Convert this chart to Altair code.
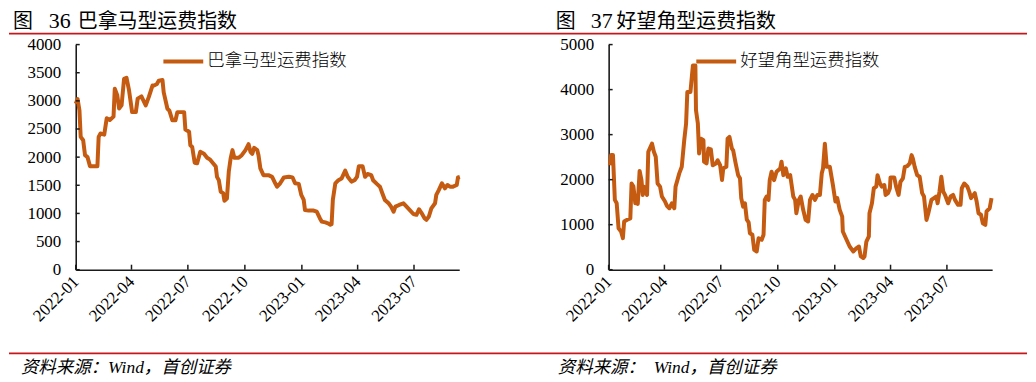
import altair as alt
import pandas as pd

# ---- data (days since 2022-01-01, index value) ----
pan_days = [0, 3, 6, 8, 12, 15, 19, 23, 35, 37, 40, 46, 50, 55, 61, 63, 67, 70, 74, 78,
            82, 86, 91, 97, 100, 106, 113, 118, 124, 127, 131, 134, 140, 142, 148, 151, 156, 161, 164, 175,
            177, 183, 185, 188, 192, 196, 201, 207, 212, 217, 223, 226, 228, 231, 234, 238, 240, 244, 247, 250,
            253, 256, 263, 268, 274, 279, 282, 285, 288, 293, 295, 298, 303,
            306, 311, 317, 322, 325, 330, 336, 344, 350, 354, 360, 364, 368, 370, 376, 384, 389, 394, 397, 403,
            407, 411, 413, 415, 419, 424, 429, 435, 439, 445, 450, 454, 457, 463, 467, 471, 477, 480, 486, 491,
            495, 499, 505, 509, 513, 516, 522, 529, 534, 540, 545, 550, 554, 558, 563, 566, 570, 574, 580, 582,
            586, 591, 596, 600, 604, 609, 615, 617, 620]
pan_vals = [2950, 3030, 2830, 2360, 2300, 2035, 2000, 1840, 1840, 2360, 2420, 2400, 2690, 2660, 2720, 3215, 3100, 2865, 2920, 3390,
            3410, 3190, 2800, 2800, 3040, 3080, 2920, 3070, 3275, 3275, 3300, 3360, 3370, 3150, 2860, 2830, 2655, 2655, 2800, 2800,
            2490, 2450, 2210, 2180, 1900, 1890, 2095, 2060, 1990, 1955, 1875, 1835, 1650, 1590, 1385, 1360, 1226, 1265, 1740, 1975,
            2125, 1990, 1990, 2035, 2125, 2230, 2095, 2060, 2165, 2125, 2035, 1800, 1680,
            1680, 1680, 1650, 1535, 1475, 1535, 1640, 1650, 1640, 1535, 1525, 1330, 1240, 1060, 1050, 1050, 1030, 915, 855, 840,
            825, 800, 810, 1240, 1535, 1590, 1620, 1760, 1650, 1565, 1590, 1650, 1840, 1840, 1650, 1700, 1680, 1590, 1525, 1475,
            1355, 1240, 1180, 1120, 1030, 1120, 1150, 1180, 1120, 1050, 990, 975, 1075, 1010, 915, 885, 945, 1090, 1180, 1330,
            1415, 1535, 1445, 1505, 1475, 1475, 1505, 1640, 1650]

cape_days = [2, 4, 7, 10, 13, 16, 20, 23, 25, 30, 35, 37, 40, 43, 46, 47, 50, 53, 55, 57,
             62, 64, 70, 73, 76, 79, 83, 86, 91, 94, 98, 102, 106, 108, 111, 114, 118, 122, 125, 127,
             132, 134, 136, 140, 141, 144, 146, 149, 153, 154, 158, 161, 165, 168, 173, 176, 180, 183, 185, 190,
             192, 195, 199, 201, 205, 209, 212, 214, 217, 220, 223, 226, 228, 232, 235, 239, 242, 247, 250, 252,
             255, 258, 260, 263, 267, 271, 277, 279, 282, 286, 289, 293, 295, 298, 301, 303, 307, 310, 314, 318,
             322, 325, 329, 333, 337, 341, 344, 346, 349, 352, 357, 362, 366, 369, 373, 377, 378, 384, 389, 395,
             400, 404, 407, 411, 413, 416, 420, 421, 425, 428, 432, 434, 438, 441, 445, 447, 451, 454, 455, 461,
             464, 468, 471, 475, 478, 482, 486, 489, 491, 494, 498, 502, 506, 509, 513, 516, 521, 525, 529, 531,
             534, 537, 540, 543, 548, 552, 556, 559, 564, 568, 570, 574, 579, 582, 585, 591, 594, 597, 601, 604,
             608, 610, 615, 618]
cape_vals = [2320, 2545, 2545, 1550, 1475, 920, 850, 700, 1070, 1110, 1140, 1915, 1845, 1475, 1625, 1460, 2195, 1990, 1660, 1845,
             1660, 2620, 2800, 2620, 2510, 1915, 1845, 1625, 1515, 1420, 1365, 1475, 1365, 1845, 1990, 2140, 2285, 2875, 3245, 3945,
             3945, 4240, 4535, 4535, 3540, 3245, 2580, 2910, 2875, 2400, 2360, 2690, 2670, 2320, 2360, 2430, 2320, 1990, 2250, 2285,
             2910, 2950, 2690, 2650, 2360, 2100, 2030, 1590, 1400, 1475, 1110, 1050, 810, 775, 440, 405, 700, 665, 775, 1550,
             1625, 1550, 1990, 2175, 1990, 2175, 2250, 2400, 2100, 2250, 2065, 2100, 1915, 1625, 1550, 1255, 1550, 1625, 1330, 1106,
             1070, 1550, 1660, 1550, 1660, 1660, 2140, 2250, 2800, 2285, 2285, 1880, 1515, 1590, 1330, 1180, 848, 665, 515, 405,
             480, 515, 295, 260, 295, 625, 740, 1255, 1475, 1810, 1845, 2100, 1915, 1845, 1880, 1660, 1700, 1810, 2050, 2050,
             1845, 1660, 1950, 2030, 2285, 2300, 2360, 2545, 2470, 2285, 2100, 2065, 1700, 1625, 1106, 1255, 1550, 1590, 1625, 1475,
             1735, 2065, 1735, 1660, 1475, 1625, 1660, 1550, 1440, 1440, 1810, 1915, 1845, 1735, 1590, 1700, 1515, 1255, 1220, 1030,
             995, 1295, 1365, 1590]

tick_dates = ["2022-01-01", "2022-04-01", "2022-07-01", "2022-10-01",
              "2023-01-01", "2023-04-01", "2023-07-01"]
pan_yticks = [0, 500, 1000, 1500, 2000, 2500, 3000, 3500, 4000]
cape_yticks = [0, 1000, 2000, 3000, 4000, 5000]

start = pd.Timestamp("2022-01-01")


def to_df(days, vals):
    return pd.DataFrame({"date": start + pd.to_timedelta(days, unit="D"), "value": vals})


LINE = "#C55A11"
RED = "#C8161D"
AX = "#1a1a1a"
SERIF = "Liberation Serif"
CJK = "Noto Sans CJK SC"
W, H = 385, 226

x_scale = alt.Scale(domain=[alt.DateTime(year=2022, month=1, date=1),
                            alt.DateTime(year=2023, month=9, date=12)])
x_axis = alt.Axis(title=None, grid=False, ticks=False, domainColor=AX, domainWidth=1.6,
                  values=[alt.DateTime(year=int(d[:4]), month=int(d[5:7]), date=1) for d in tick_dates],
                  format="%Y-%m", labelAngle=-45, labelAlign="right", labelBaseline="middle",
                  labelPadding=9, labelFont=SERIF, labelFontSize=17, labelColor="#000",
                  labelOverlap=False, labelFlush=False, labelBound=False)


def panel(df, ymax, yticks, fig_no, name, src, title_x, num_x, name_x, red_l, red_r, src_x):
    y_scale = alt.Scale(domain=[0, ymax])
    y_axis = alt.Axis(title=None, grid=False, ticks=False, domainColor=AX, domainWidth=1.6,
                      values=yticks, format="d", labelPadding=15, labelFont=SERIF,
                      labelFontSize=17, labelColor="#000", labelFlush=False)
    X = alt.X("date:T", scale=x_scale, axis=x_axis)
    Y = alt.Y("value:Q", scale=y_scale, axis=y_axis)

    line = alt.Chart(df).mark_line(color=LINE, strokeWidth=4, strokeJoin="round").encode(x=X, y=Y)

    xt = alt.Chart(pd.DataFrame({"date": pd.to_datetime(tick_dates)})).mark_rule(
        color=AX, strokeWidth=1.5).encode(x=X, y=alt.value(H - 5), y2=alt.value(H))
    yt = alt.Chart(pd.DataFrame({"value": yticks})).mark_rule(
        color=AX, strokeWidth=1.5).encode(y=Y, x=alt.value(0), x2=alt.value(4))

    one = alt.Chart(pd.DataFrame({"a": [0]}))
    # invisible spacer that reserves room above the title glyphs
    spacer = one.mark_rule(opacity=0).encode(
        x=alt.value(0), x2=alt.value(10), y=alt.value(-36))
    t1 = one.mark_text(text="图", font=CJK, fontSize=20, align="left", baseline="top",
                       color="#000").encode(x=alt.value(title_x), y=alt.value(-33))
    t2 = one.mark_text(text=fig_no, font=SERIF, fontSize=22, align="left", baseline="top",
                       color="#000").encode(x=alt.value(num_x), y=alt.value(-34))
    t3 = one.mark_text(text=name, font=CJK, fontSize=20, align="left", baseline="top",
                       color="#000").encode(x=alt.value(name_x), y=alt.value(-33))
    r_top = one.mark_rule(color=RED, strokeWidth=2).encode(
        x=alt.value(red_l), x2=alt.value(red_r), y=alt.value(-11))
    r_bot = one.mark_rule(color=RED, strokeWidth=2).encode(
        x=alt.value(red_l), x2=alt.value(red_r), y=alt.value(310))
    src_t = one.mark_text(text=src, font=f"{SERIF}, {CJK}", fontSize=17.5, fontStyle="italic",
                          align="left", baseline="middle", color="#000").encode(
        x=alt.value(src_x), y=alt.value(325))
    leg_l = one.mark_rule(color=LINE, strokeWidth=4).encode(
        x=alt.value(88), x2=alt.value(128), y=alt.value(17))
    leg_t = one.mark_text(text=name, font=CJK, fontSize=17.5, fontWeight=300, align="left",
                          baseline="middle", color="#000").encode(x=alt.value(132), y=alt.value(17))

    return alt.layer(line, xt, yt, spacer, t1, t2, t3, r_top, r_bot, src_t, leg_l, leg_t).properties(
        width=W, height=H)


left = panel(to_df(pan_days, pan_vals), 4000, pan_yticks, "36", "巴拿马型运费指数",
             "资料来源：Wind，首创证券", -63, -27, 2, -67, 445, -55)
right = panel(to_df(cape_days, cape_vals), 5000, cape_yticks, "37", "好望角型运费指数",
              "资料来源：\u00a0 Wind，首创证券", -53, -18, 8, -90, 420, -51)

chart = alt.hconcat(left, right, spacing=150, bounds="flush").properties(
    padding=0).configure_view(stroke=None)

chart.save("out.html", embed_options={"renderer": "svg", "actions": False})
